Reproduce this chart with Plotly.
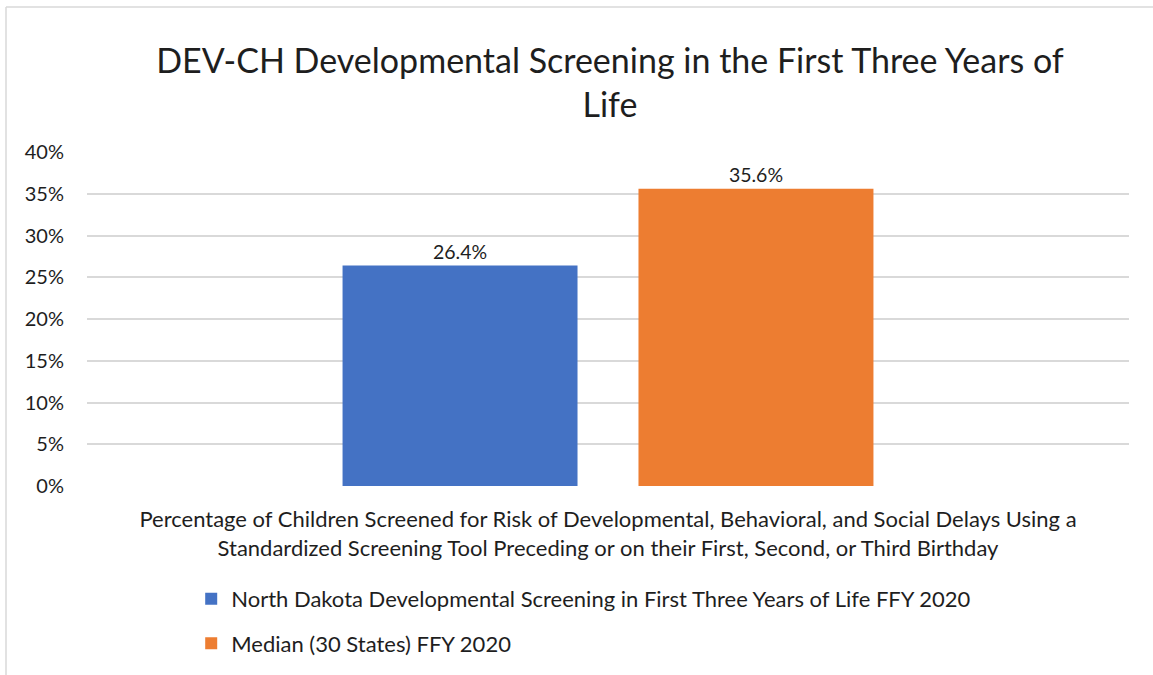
import plotly.graph_objects as go

# data
category = ["Percentage of Children Screened for Risk of Developmental, Behavioral, and Social Delays Using a<br>"
            "Standardized Screening Tool Preceding or on their First, Second, or Third Birthday"]
series_names = [
    "North Dakota Developmental Screening in First Three Years of Life FFY 2020",
    "Median (30 States) FFY 2020",
]
series_values = [0.264, 0.356]
series_colors = ["#4472C4", "#ED7D31"]

FONT = "Lato, Calibri, Carlito, sans-serif"
TEXT = "#1e1e1e"

fig = go.Figure()
for name, val, color in zip(series_names, series_values, series_colors):
    fig.add_trace(go.Bar(
        x=["cat"], y=[val], name=name,
        marker=dict(color=color, line=dict(width=0)),
        text=[f"{val:.1%}"], textposition="outside", cliponaxis=False,
        textfont=dict(size=19.5, color=TEXT, family=FONT),
        legendgroup=name,
    ))

fig.update_layout(
    width=1153, height=675,
    margin=dict(l=87, r=24, t=152, b=189, autoexpand=False),
    paper_bgcolor="white", plot_bgcolor="white",
    font=dict(family=FONT, color=TEXT, size=20),
    barmode="group", bargap=0.432, bargroupgap=0.206,
    title=dict(
        text="DEV-CH Developmental Screening in the First Three Years of<br>Life",
        x=0.529, xanchor="center", xref="container",
        y=1 - 73 / 675, yanchor="middle", yref="container",
        font=dict(size=34, color=TEXT, family=FONT),
    ),
    xaxis=dict(
        tickmode="array", tickvals=["cat"], ticktext=category,
        tickfont=dict(size=22, color=TEXT), showgrid=False, showline=False,
        ticks="", ticklabelstandoff=18, automargin=False,
    ),
    yaxis=dict(
        range=[0, 0.4], dtick=0.05, tickformat=".0%",
        gridcolor="#d9d9d9", gridwidth=1.5, zeroline=False,
        tickfont=dict(size=20, color=TEXT), ticklabelstandoff=22, automargin=False,
    ),
    legend=dict(
        orientation="v", x=0.1, xanchor="left", y=-0.275, yanchor="top",
        font=dict(size=22, color=TEXT), tracegroupgap=13,
        itemwidth=30,
    ),
    shapes=[
        dict(type="line", xref="paper", yref="paper", x0=(6 - 87) / 1042, x1=(6 - 87) / 1042,
             y0=(486 - 7) / 334, y1=(486 - 680) / 334, line=dict(color="#d9d9d9", width=1.5)),
        dict(type="line", xref="paper", yref="paper", x0=(6 - 87) / 1042, x1=(1160 - 87) / 1042,
             y0=(486 - 7) / 334, y1=(486 - 7) / 334, line=dict(color="#d9d9d9", width=1.5)),
    ],
)

fig.write_html("out.html", config={"displayModeBar": False},
               post_script="document.body.style.margin='0';")
